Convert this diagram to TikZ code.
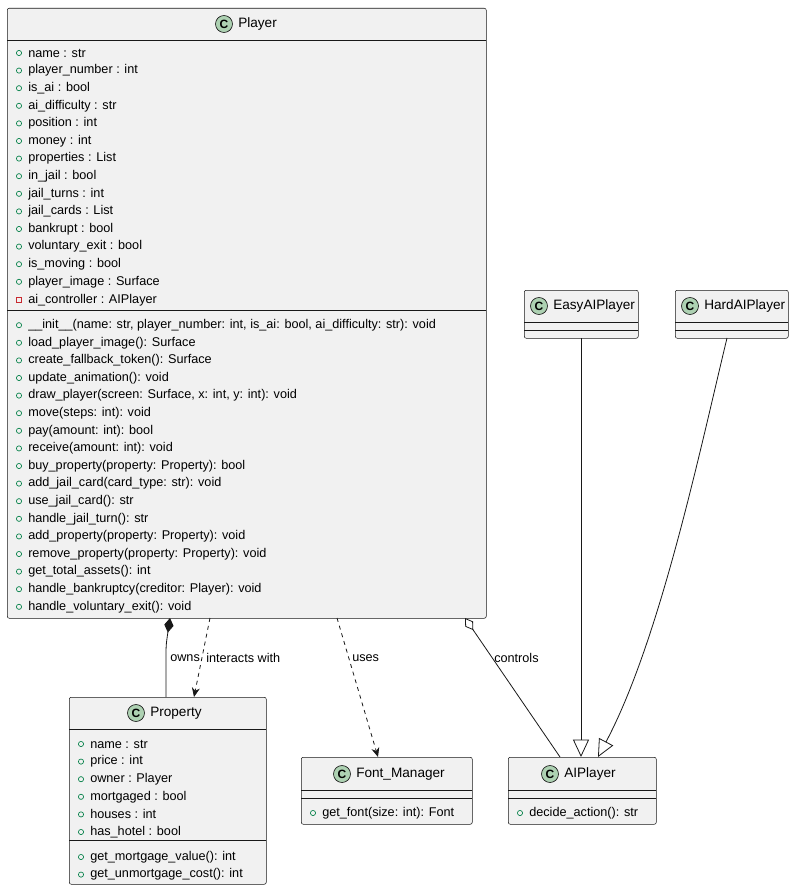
\documentclass[tikz,border=0pt]{standalone}
\usepackage{fontspec}
\setmainfont{Liberation Sans}
\usetikzlibrary{arrows.meta,positioning}
\definecolor{boxfill}{HTML}{F1F1F1}
\definecolor{boxline}{HTML}{181818}
\definecolor{iconfill}{HTML}{ADD1B2}
\definecolor{publine}{HTML}{038048}
\definecolor{privline}{HTML}{C82930}
\tikzset{
  cls/.style 2 args={draw=boxline,fill=boxfill,rounded corners=1.5pt,anchor=north west,inner sep=0pt,
    minimum width=0.75*#1pt,minimum height=0.75*#2pt},
  mem/.style={anchor=west,inner sep=0pt,font=\fontsize{9.5}{10}\selectfont},
  title/.style={inner sep=0pt,font=\fontsize{10.2}{11}\selectfont},
  conn/.style={draw=boxline,line width=0.6pt},
}
% public / private markers
\newcommand\pubm[2]{\draw[publine,line width=0.5pt] (#1,#2) circle (2.6);}
\newcommand\privm[2]{\draw[privline,line width=0.5pt] (#1-2.6,#2-2.6) rectangle (#1+2.6,#2+2.6);}
% class icon
\newcommand\clsicon[2]{\draw[boxline,fill=iconfill,line width=0.5pt] (#1,#2) circle (8.5);
  \node[inner sep=0pt,font=\bfseries\fontsize{9}{9}\selectfont] at (#1,#2) {C};}
\begin{document}
\begin{tikzpicture}[x=0.75pt,y=-0.75pt]
\useasboundingbox (0,0) rectangle (794,891);
% Player
\node[cls={479}{610}] (player) at (7,8) {};
\clsicon{224}{24}
\node[title,anchor=west] (playert) at (238,24) {Player};
\draw[boxline,line width=0.5pt] (7,40) -- (486,40) (7,310) -- (486,310);
\foreach \t [count=\i] in {name : str,player\_number : int,is\_ai : bool,ai\_difficulty : str,position : int,money : int,properties : List,in\_jail : bool,jail\_turns : int,jail\_cards : List,bankrupt : bool,voluntary\_exit : bool,is\_moving : bool,player\_image : Surface}{
  \pubm{19}{35.4+17.6*\i}
  \node[mem] at (28,35.4+17.6*\i) {\t};
}
\privm{19}{299.8}
\node[mem] at (28,299.8) {ai\_controller : AIPlayer};
\foreach \t [count=\i] in {\_\_init\_\_(name: str{,} player\_number: int{,} is\_ai: bool{,} ai\_difficulty: str): void,load\_player\_image(): Surface,create\_fallback\_token(): Surface,update\_animation(): void,draw\_player(screen: Surface{,} x: int{,} y: int): void,move(steps: int): void,pay(amount: int): bool,receive(amount: int): void,buy\_property(property: Property): bool,add\_jail\_card(card\_type: str): void,use\_jail\_card(): str,handle\_jail\_turn(): str,add\_property(property: Property): void,remove\_property(property: Property): void,get\_total\_assets(): int,handle\_bankruptcy(creditor: Player): void,handle\_voluntary\_exit(): void}{
  \pubm{19}{307.6+17.6*\i}
  \node[mem] at (28,307.6+17.6*\i) {\t};
}
% Property
\node[cls={197}{187}] (property) at (69,697) {};
\clsicon{136}{713}
\node[title,anchor=west] at (150,713) {Property};
\draw[boxline,line width=0.5pt] (69,729) -- (266,729) (69,840) -- (266,840);
\foreach \t [count=\i] in {name : str,price : int,owner : Player,mortgaged : bool,houses : int,has\_hotel : bool}{
  \pubm{81}{726.4+17.6*\i}
  \node[mem] at (90,726.4+17.6*\i) {\t};
}
\foreach \t [count=\i] in {get\_mortgage\_value(): int,get\_unmortgage\_cost(): int}{
  \pubm{81}{839.4+17.6*\i}
  \node[mem] at (90,839.4+17.6*\i) {\t};
}
% Font_Manager
\node[cls={171}{67}] (font) at (301,757) {};
\clsicon{342}{774}
\node[title,anchor=west] at (356,774) {Font\_Manager};
\draw[boxline,line width=0.5pt] (301,790) -- (472,790) (301,798) -- (472,798);
\pubm{313}{813}
\node[mem] at (322,813) {get\_font(size: int): Font};
% AIPlayer
\node[cls={148}{67}] (ai) at (508,757) {};
\clsicon{550}{774}
\node[title,anchor=west] at (564,774) {AIPlayer};
\draw[boxline,line width=0.5pt] (508,790) -- (656,790) (508,798) -- (656,798);
\pubm{520}{813}
\node[mem] at (529,813) {decide\_action(): str};
% EasyAIPlayer
\node[cls={114}{48}] (easy) at (524,290) {};
\clsicon{539}{306}
\node[title,anchor=west] at (553,306) {EasyAIPlayer};
\draw[boxline,line width=0.5pt] (524,322) -- (638,322) (524,330) -- (638,330);
% HardAIPlayer
\node[cls={113}{48}] (hard) at (675,290) {};
\clsicon{690}{306}
\node[title,anchor=west] at (704,306) {HardAIPlayer};
\draw[boxline,line width=0.5pt] (675,322) -- (788,322) (675,330) -- (788,330);
% connectors
\coordinate (ownsA) at (166,697);
\coordinate (ownsB) at (170,618);
\draw[conn,{Diamond[fill=boxline,length=11,width=7]}-] (ownsB) .. controls (166,645) .. (166,660) -- (ownsA);
\node[mem] at (170,658) {owns};
\draw[conn,dashed,-{Stealth[length=7,width=6]}] (210,618) -- (194,697);
\node[mem] at (206,658) {interacts with};
\draw[conn,dashed,-{Stealth[length=7,width=6]}] (337,618) -- (378,757);
\node[mem] at (352,658) {uses};
\draw[conn,{Diamond[open,fill=white,length=11,width=7]}-] (465,618) -- (560,757);
\node[mem] at (494,658) {controls};
\draw[conn,-{Triangle[open,fill=white,length=13,width=12]}] (581,338) -- (581,757);
\draw[conn,-{Triangle[open,fill=white,length=13,width=12]}] (727,338) .. controls (700,450) and (660,640) .. (598,757);
\end{tikzpicture}
\end{document}
